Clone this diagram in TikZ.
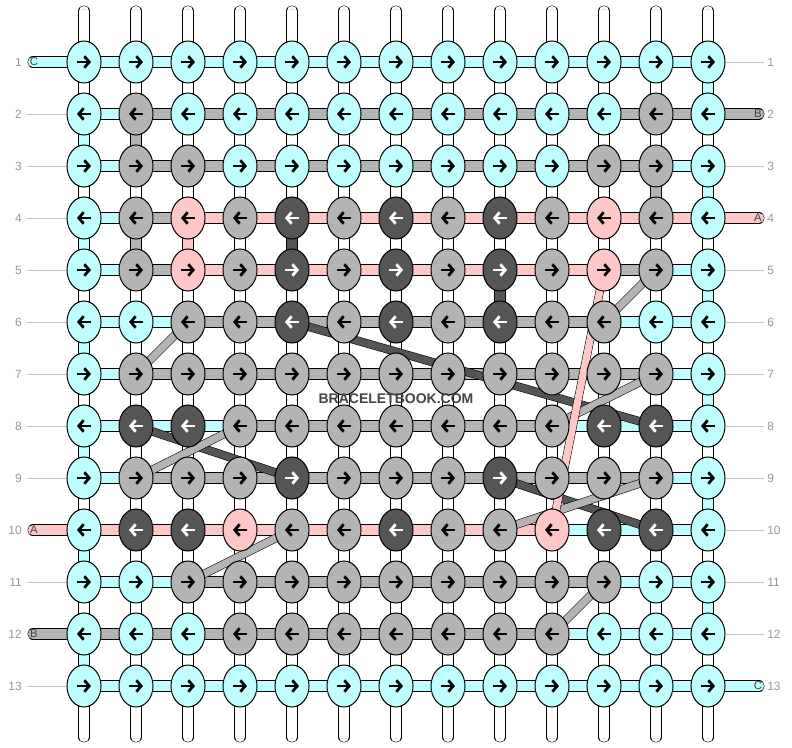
\documentclass[tikz,border=0pt]{standalone}
\usepackage{fontspec}
\setmainfont{Liberation Sans}
\usetikzlibrary{shapes.geometric,arrows.meta}

\definecolor{colC}{RGB}{192,255,255}
\definecolor{colG}{RGB}{180,180,180}
\definecolor{colD}{RGB}{85,85,85}
\definecolor{colP}{RGB}{255,200,200}
\definecolor{colW}{RGB}{255,255,255}
\definecolor{innerW}{RGB}{190,190,190}
\colorlet{innerC}{colC}
\colorlet{innerG}{colG}
\colorlet{innerD}{colD}
\colorlet{innerP}{colP}
\colorlet{tipC}{black}
\colorlet{tipG}{black}
\colorlet{tipP}{black}
\colorlet{tipD}{white}
\definecolor{labgray}{RGB}{150,150,150}
\definecolor{guidegray}{RGB}{195,195,195}
\definecolor{markgray}{RGB}{68,68,68}

\pgfdeclarelayer{strands}
\pgfdeclarelayer{diagonals}
\pgfsetlayers{strands,diagonals,main}

\tikzset{every picture/.style={line width=0.75pt}}
\tikzset{
  knot/.style={ellipse, draw, fill=col#1, minimum width=25.5pt, minimum height=31.5pt, inner sep=0pt},
  turn/.style={draw=tip#1, line width=2.1pt, -{Straight Barb[length=3.6pt,width=8.6pt]}},
  hbar/.style={draw=black, double=col#1, double distance=7.5pt},
  vbar/.style={hbar=#1, postaction={draw=inner#1, line width=0.4pt, double=col#1, double distance=2.6pt}},
  diag/.style={draw=black, double=col#1, double distance=5.5pt},
  rowlab/.style={text=labgray, font=\fontsize{9}{10}\selectfont, inner sep=0pt},
  guide/.style={draw=guidegray},
  capletter/.style={text=markgray, font=\fontsize{8.5}{10}\selectfont, inner sep=0pt},
}

% one row of knots: #1 row, #2 direction (1 right, -1 left), #3 colours
\newcommand\knotrow[3]{%
  \foreach \cl [count=\j] in {#3}{
    \node[knot=\cl] (k-#1-\j) at ({84+52*(\j-1)},{62+52*(#1-1)}) {};
    \draw[turn=\cl] (k-#1-\j.center) ++({-7*(#2)},0) -- ++({14*(#2)},0);
  }}
% working strand between the knots of one row
\newcommand\barrow[2]{%
  \foreach \cl [count=\j] in {#2}{
    \pgfmathtruncatemacro\nextcol{\j+1}
    \draw[hbar=\cl] (k-#1-\j.center) -- (k-#1-\nextcol.center);
  }}
% strands from one row down to the next
\newcommand\segrow[2]{%
  \pgfmathtruncatemacro\lowrow{#1+1}
  \foreach \cl [count=\j] in {#2}{
    \draw[vbar=\cl] (k-#1-\j.center) -- (k-\lowrow-\j.center);
  }}

\begin{document}
\begin{tikzpicture}[x=0.75pt,y=0.75pt,yscale=-1,xscale=1]
\useasboundingbox (0,0) rectangle (792,748);

%Shape: Ellipse (knots, row by row)
\knotrow{1}{1}{C,C,C,C,C,C,C,C,C,C,C,C,C}
\knotrow{2}{-1}{C,G,C,C,C,C,C,C,C,C,C,G,C}
\knotrow{3}{1}{C,G,G,C,C,C,C,C,C,C,G,G,C}
\knotrow{4}{-1}{C,G,P,G,D,G,D,G,D,G,P,G,C}
\knotrow{5}{1}{C,G,P,G,D,G,D,G,D,G,P,G,C}
\knotrow{6}{-1}{C,C,G,G,D,G,D,G,D,G,G,C,C}
\knotrow{7}{1}{C,G,G,G,G,G,G,G,G,G,G,G,C}
\knotrow{8}{-1}{C,D,D,G,G,G,G,G,G,G,D,D,C}
\knotrow{9}{1}{C,G,G,G,D,G,G,G,D,G,G,G,C}
\knotrow{10}{-1}{C,D,D,P,G,G,D,G,G,P,D,D,C}
\knotrow{11}{1}{C,C,G,G,G,G,G,G,G,G,G,C,C}
\knotrow{12}{-1}{C,C,C,G,G,G,G,G,G,G,C,C,C}
\knotrow{13}{1}{C,C,C,C,C,C,C,C,C,C,C,C,C}

\begin{pgfonlayer}{strands}
%Straight Lines (loose ends at top and bottom)
\foreach \j in {1,...,13}{
  \coordinate (top-\j) at ({84+52*(\j-1)},11);
  \coordinate (bot-\j) at ({84+52*(\j-1)},737);
  \draw[vbar=W, line cap=round] (top-\j) -- (k-1-\j.center);
  \draw[vbar=W, line cap=round] (bot-\j) -- (k-13-\j.center);
}
%Straight Lines (between rows)
\segrow{1}{W,W,W,W,W,W,W,W,W,W,W,W,C}
\segrow{2}{C,G,W,W,W,W,W,W,W,W,W,W,W}
\segrow{3}{W,W,W,W,W,W,W,W,W,W,W,G,C}
\segrow{4}{C,G,P,W,D,W,W,W,W,W,W,W,W}
\segrow{5}{W,W,W,W,W,W,W,W,D,W,W,W,C}
\segrow{6}{C,W,W,W,W,W,W,W,W,W,W,W,W}
\segrow{7}{W,W,W,W,W,W,W,W,W,W,W,W,C}
\segrow{8}{C,W,W,W,W,W,W,W,W,W,W,W,W}
\segrow{9}{W,W,W,W,W,W,W,W,W,W,W,W,C}
\segrow{10}{C,W,W,W,W,W,W,W,W,W,W,W,W}
\segrow{11}{W,W,W,W,W,W,W,W,W,W,W,W,C}
\segrow{12}{C,W,W,W,W,W,W,W,W,W,W,W,W}
%Straight Lines (along rows)
\barrow{1}{C,C,C,C,C,C,C,C,C,C,C,C}
\barrow{2}{C,G,G,G,G,G,G,G,G,G,G,G}
\barrow{3}{C,G,G,G,G,G,G,G,G,G,G,C}
\barrow{4}{C,G,P,P,P,P,P,P,P,P,P,P}
\barrow{5}{C,G,P,P,P,P,P,P,P,P,G,C}
\barrow{6}{C,C,G,G,G,G,G,G,G,G,C,C}
\barrow{7}{C,G,G,G,G,G,G,G,G,G,G,C}
\barrow{8}{C,C,C,G,G,G,G,G,G,C,C,C}
\barrow{9}{C,G,G,G,G,G,G,G,G,G,G,C}
\barrow{10}{P,P,P,P,P,P,P,P,P,C,C,C}
\barrow{11}{C,C,G,G,G,G,G,G,G,G,C,C}
\barrow{12}{G,G,G,G,G,G,G,G,G,C,C,C}
\barrow{13}{C,C,C,C,C,C,C,C,C,C,C,C}
%Straight Lines (strand ends A, B, C)
\coordinate (capl-1) at (33,62);
\coordinate (capl-10) at (33,530);
\coordinate (capl-12) at (33,634);
\coordinate (capr-2) at (759,114);
\coordinate (capr-4) at (759,218);
\coordinate (capr-13) at (759,686);
\draw[hbar=C, line cap=round] (capl-1) -- (k-1-1.center);
\draw[hbar=P, line cap=round] (capl-10) -- (k-10-1.center);
\draw[hbar=G, line cap=round] (capl-12) -- (k-12-1.center);
\draw[hbar=G, line cap=round] (capr-2) -- (k-2-13.center);
\draw[hbar=P, line cap=round] (capr-4) -- (k-4-13.center);
\draw[hbar=C, line cap=round] (capr-13) -- (k-13-13.center);
\end{pgfonlayer}

\begin{pgfonlayer}{diagonals}
%Straight Lines (carried strands)
\draw[diag=D] (k-6-5.center) -- (k-8-12.center);
\draw[diag=D] (k-8-2.center) -- (k-9-5.center);
\draw[diag=D] (k-9-9.center) -- (k-10-12.center);
\draw[diag=G] (k-5-12.center) -- (k-6-11.center);
\draw[diag=G] (k-6-3.center) -- (k-7-2.center);
\draw[diag=G] (k-7-12.center) -- (k-8-10.center);
\draw[diag=G] (k-8-4.center) -- (k-9-2.center);
\draw[diag=G] (k-9-12.center) -- (k-10-9.center);
\draw[diag=G] (k-10-5.center) -- (k-11-3.center);
\draw[diag=G] (k-11-11.center) -- (k-12-10.center);
\draw[diag=P] (k-5-11.center) -- (k-10-10.center);
\end{pgfonlayer}

% Text Node
\foreach \i in {1,...,13}{
  \node[rowlab, anchor=east] (labl-\i) at (22,{62+52*(\i-1)}) {\i};
  \node[rowlab, anchor=west] (labr-\i) at (767,{62+52*(\i-1)}) {\i};
}
\begin{pgfonlayer}{strands}
\foreach \i in {2,...,9,11,13}
  \draw[guide] ([xshift=3.75pt]labl-\i.east) -- (k-\i-1);
\foreach \i in {1,3,5,6,7,8,9,10,11,12}
  \draw[guide] (k-\i-13) -- ([xshift=-2.25pt]labr-\i.west);
\end{pgfonlayer}

% Text Node
\node[capletter] (lettl-1) at (34,62) {C};
\node[capletter] (lettl-10) at (34,530) {A};
\node[capletter] (lettl-12) at (34,634) {B};
\node[capletter] (lettr-2) at (758,114) {B};
\node[capletter] (lettr-4) at (758,218) {A};
\node[capletter] (lettr-13) at (758,686) {C};

% Text Node
\node[text=markgray, font=\bfseries\fontsize{10.5}{12}\selectfont] (mark) at (396,399) {BRACELETBOOK.COM};

\end{tikzpicture}
\end{document}
